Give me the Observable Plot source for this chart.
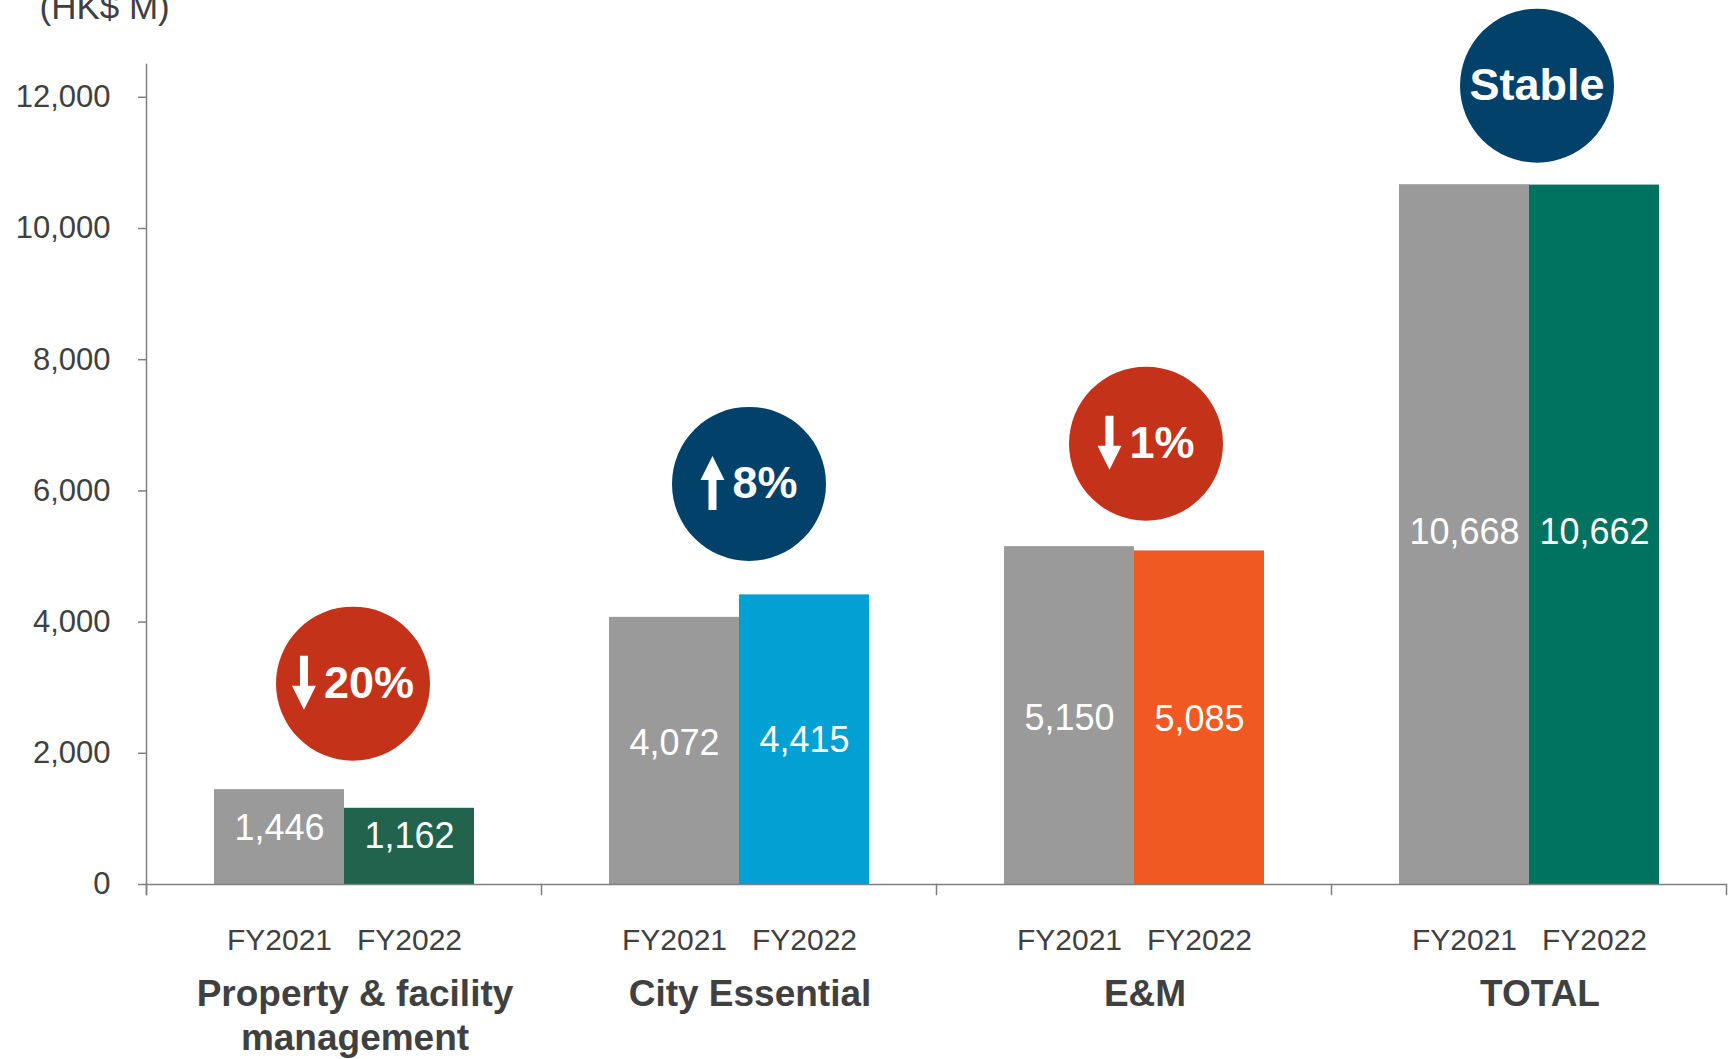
<!DOCTYPE html>
<html>
<head>
<meta charset="utf-8">
<script src="https://cdn.jsdelivr.net/npm/d3@7"></script>
<script src="https://cdn.jsdelivr.net/npm/@observablehq/plot@0.6"></script>
<style>
  html, body { margin: 0; padding: 0; background: #fff; }
  #chart svg { display: block; }
</style>
</head>
<body>
<div id="chart"></div>
<script>
// ---- Data ----
const categories = ["Property & facility management", "City Essential", "E&M", "TOTAL"];
const years = ["FY2021", "FY2022"];
const fy2021 = [1446, 4072, 5150, 10668];
const fy2022 = [1162, 4415, 5085, 10662];
const yTicks = [0, 2000, 4000, 6000, 8000, 10000, 12000];
const unitLabel = "(HK$ M)";

// ---- Styles / layout nudges (pixels) ----
const priorColor = "#9A9A9A";
const currentColors = ["#22634E", "#03A0D3", "#F05A22", "#007360"];
const downColor = "#C4321A";
const upColor = "#02416A";
const textColor = "#404040";
const axisColor = "#7F7F7F";
const font = "'Liberation Sans', Arial, Helvetica, sans-serif";
const badgeDx = [9, 10, 12, 8];          // circle offset from the group centre
const badgeDy = [-106, -111, -103, -99]; // circle offset above the taller bar
const labelNudge = [[-9, -10], [-7, 1], [3, 2], [-2, -2]]; // value-label nudges
const badgeFont = 45;

const bars = categories.flatMap((cat, i) => [
  {cat, year: years[0], value: fy2021[i], color: priorColor, nudge: labelNudge[i][0]},
  {cat, year: years[1], value: fy2022[i], color: currentColors[i], nudge: labelNudge[i][1]}
]);

const changes = categories.map((cat, i) => {
  const pct = (fy2022[i] - fy2021[i]) / fy2021[i] * 100;
  const stable = Math.abs(pct) < 0.5;
  return {
    cat, i,
    top: Math.max(fy2021[i], fy2022[i]),
    dir: stable ? 0 : (pct < 0 ? -1 : 1),
    label: stable ? "Stable" : Math.round(Math.abs(pct)) + "%",
    fill: stable || pct > 0 ? upColor : downColor
  };
});

const fmt = d3.format(",");

// measure text width for badge layout
const ctx = document.createElement("canvas").getContext("2d");
ctx.font = `bold ${badgeFont}px 'Liberation Sans', Arial, sans-serif`;
const measure = (s) => ctx.measureText(s).width;

// filled arrow shape for Plot.vector (drawn pointing up, tip at -l)
const arrowW = 24, arrowGap = 8;
const filledArrow = {
  draw(context, l) {
    const hw = arrowW / 2, hl = 24, sw = 4;
    context.moveTo(-sw, 0);
    context.lineTo(-sw, -(l - hl));
    context.lineTo(-hw, -(l - hl));
    context.lineTo(0, -l);
    context.lineTo(hw, -(l - hl));
    context.lineTo(sw, -(l - hl));
    context.lineTo(sw, 0);
    context.closePath();
  }
};

const badgeMarks = changes.flatMap((c) => {
  const i = c.i;
  const tw = measure(c.label);
  const gw = c.dir ? arrowW + arrowGap + tw : tw;
  const left = -gw / 2;
  const marks = [
    Plot.dot([c], {fx: "cat", y: "top", r: 77, fill: "fill", dx: badgeDx[i], dy: badgeDy[i]}),
    Plot.text([c], {fx: "cat", y: "top", text: "label", fill: "white", fontSize: badgeFont,
      fontWeight: "bold", textAnchor: "start",
      dx: badgeDx[i] + left + (c.dir ? arrowW + arrowGap : 0), dy: badgeDy[i]})
  ];
  if (c.dir) {
    marks.push(Plot.vector([c], {fx: "cat", y: "top", length: 54, rotate: c.dir > 0 ? 0 : 180,
      anchor: "middle", shape: filledArrow, fill: "white", stroke: "none",
      dx: badgeDx[i] + left + arrowW / 2, dy: badgeDy[i] - 1}));
  }
  return marks;
});

const valueLabels = bars.map((b) =>
  Plot.text([b], {fx: "cat", x: "year", y: d => d.value / 2, text: d => fmt(d.value),
    fill: "white", fontSize: 36, dy: b.nudge})
);

const chart = Plot.plot({
  width: 1733,
  height: 1059,
  marginLeft: 146,
  marginRight: 7,
  marginTop: 64,
  marginBottom: 175,
  style: {fontFamily: font, background: "#fff", color: textColor},
  fx: {domain: categories, padding: 0, axis: null},
  x: {domain: years, paddingInner: 0, paddingOuter: 0.51, axis: null},
  y: {domain: [0, 12500], axis: null},
  color: {type: "identity"},
  marks: [
    Plot.barY(bars, {fx: "cat", x: "year", y: "value", fill: "color"}),
    Plot.ruleY([0], {stroke: axisColor, strokeWidth: 1.5}),
    Plot.frame({anchor: "left", facetAnchor: "left", stroke: axisColor, strokeWidth: 1.5, insetBottom: -10}),
    Plot.frame({anchor: "left", stroke: axisColor, strokeWidth: 1.5, insetTop: 820, insetBottom: -10}),
    Plot.frame({anchor: "right", facetAnchor: "right", stroke: axisColor, strokeWidth: 1.5, insetTop: 820, insetBottom: -10}),
    Plot.axisY({ticks: yTicks, tickSize: 8, tickPadding: 28, tickFormat: fmt, fontSize: 31,
      stroke: axisColor, strokeWidth: 1.5, fill: textColor, label: null}),
    Plot.axisX({tickSize: 0, tickPadding: 44, fontSize: 30, fill: textColor, label: null}),
    Plot.axisFx({anchor: "bottom", tickSize: 0, tickPadding: 90, fontSize: 37, fontWeight: "bold",
      lineHeight: 1.19, fill: textColor, label: null, dx: 11,
      tickFormat: d => d === categories[0] ? "Property & facility\nmanagement" : d}),
    Plot.text([unitLabel], {frameAnchor: "top-left", facetAnchor: "left", text: d => d,
      textAnchor: "start", lineAnchor: "bottom", dx: -107, dy: -46, fontSize: 35, fill: textColor}),
    ...valueLabels,
    ...badgeMarks
  ]
});

document.getElementById("chart").appendChild(chart);
</script>
</body>
</html>
